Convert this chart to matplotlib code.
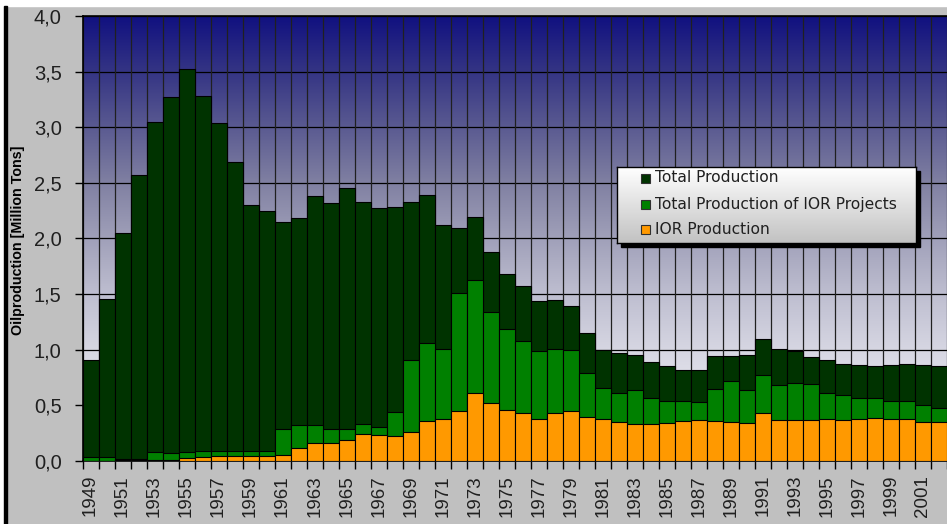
import numpy as np
import matplotlib
matplotlib.use("Agg")
import matplotlib.pyplot as plt
from matplotlib.patches import Rectangle

years = list(range(1949, 2003))
total_production = [0.91, 1.46, 2.05, 2.57, 3.05, 3.27, 3.52, 3.28, 3.04, 2.69, 2.30, 2.25, 2.15, 2.18, 2.38,
                    2.32, 2.455, 2.33, 2.27, 2.28, 2.33, 2.39, 2.12, 2.09, 2.19, 1.88, 1.68, 1.57, 1.44, 1.445,
                    1.39, 1.15, 1.00, 0.97,
                    0.95, 0.89, 0.85, 0.82, 0.82, 0.94, 0.94, 0.95, 1.10, 1.01, 0.99, 0.935, 0.91, 0.875,
                    0.865, 0.857, 0.865, 0.872, 0.865, 0.85]
ior_projects = [0.04, 0.033, 0.02, 0.015, 0.078, 0.072, 0.078, 0.087, 0.087, 0.087, 0.087, 0.087, 0.29, 0.32, 0.32,
                0.29, 0.29, 0.335, 0.31, 0.44, 0.91, 1.06, 1.01, 1.51, 1.63, 1.34, 1.19, 1.08, 0.99, 1.01,
                0.995, 0.79, 0.66, 0.61,
                0.64, 0.57, 0.54, 0.54, 0.53, 0.65, 0.715, 0.64, 0.77, 0.68, 0.70, 0.695, 0.61, 0.59,
                0.57, 0.565, 0.535, 0.535, 0.50, 0.48]
ior_production = [0.0, 0.0, 0.008, 0.005, 0.005, 0.008, 0.027, 0.033, 0.042, 0.042, 0.048, 0.048, 0.057, 0.12, 0.165,
                  0.16, 0.19, 0.24, 0.23, 0.225, 0.265, 0.36, 0.38, 0.45, 0.61, 0.52, 0.46, 0.435, 0.38, 0.435,
                  0.45, 0.40, 0.375, 0.35,
                  0.33, 0.33, 0.34, 0.357, 0.366, 0.357, 0.348, 0.34, 0.43, 0.366, 0.366, 0.366, 0.375, 0.366,
                  0.375, 0.384, 0.375, 0.375, 0.348, 0.348]
y_ticks = [0.0, 0.5, 1.0, 1.5, 2.0, 2.5, 3.0, 3.5, 4.0]
labels = ["Total Production", "Total Production of IOR Projects", "IOR Production"]
colors = ["#003300", "#008000", "#FF9900"]

W, H = 947, 524
fig = plt.figure(figsize=(W / 100, H / 100), dpi=100, facecolor="#C0C0C0")

# frame bits of the cropped spreadsheet chart
fig.patches.append(Rectangle((0, 1 - 6 / H), 1, 6 / H, transform=fig.transFigure, color="white", zorder=0))
fig.patches.append(Rectangle((0, 0), 4 / W, 1, transform=fig.transFigure, color="white", zorder=0))
fig.patches.append(Rectangle((4 / W, 0), 2.5 / W, 1 - 6 / H, transform=fig.transFigure, color="black", zorder=0))

ax_left, ax_top, ax_bottom = 82.5, 16, 461
ax = fig.add_axes([ax_left / W, (H - ax_bottom) / H, 1 - ax_left / W, (ax_bottom - ax_top) / H])

# gradient background (navy -> greyish lavender -> near white)
stops = np.array([[16, 16, 128], [52, 52, 132], [90, 90, 145], [128, 128, 162], [160, 160, 185],
                  [190, 190, 208], [214, 214, 226], [232, 232, 240], [246, 246, 250]]) / 255
pos = np.linspace(0, 1, len(stops))
t = np.linspace(0, 1, 400)
grad = np.stack([np.interp(t, pos, stops[:, k]) for k in range(3)], axis=1)[:, None, :]
ax.imshow(grad, extent=[0, 1, 0, 1], transform=ax.transAxes, aspect="auto", zorder=0)

x = np.arange(len(years))
ax.bar(x, total_production, width=1.0, color=colors[0], edgecolor="black", linewidth=0.8, zorder=3)
ax.bar(x, ior_projects, width=1.0, color=colors[1], edgecolor="black", linewidth=0.8, zorder=4)
ax.bar(x, ior_production, width=1.0, color=colors[2], edgecolor="black", linewidth=0.8, zorder=5)

cat_w = 16.06
ax.set_xlim(-0.5, (W - ax_left) / cat_w - 0.5)
ax.set_ylim(0, 4)

# grid lines
for yv in y_ticks:
    ax.axhline(yv, color="black", linewidth=0.9, zorder=1)
for b in np.arange(-0.5, len(years) + 0.5):
    ax.axvline(b, color="#202020", linewidth=0.9, zorder=1)

ax.set_yticks(y_ticks)
ax.set_yticklabels([f"{v:.1f}".replace(".", ",") for v in y_ticks], fontsize=14.5,
                   family="Liberation Sans", color="#202020")
ax.tick_params(axis="y", length=6, width=1, pad=9)

ax.set_xticks(np.arange(-0.5, len(years) + 0.5), minor=False)
ax.set_xticklabels([])
ax.tick_params(axis="x", which="major", length=6, width=1)
ax.set_xticks(x[::2], minor=True)
ax.set_xticklabels([str(y) for y in years[::2]], minor=True, rotation=90,
                   fontsize=13.5, family="Liberation Sans", color="#202020")
ax.tick_params(axis="x", which="minor", length=0, pad=10)

for s in ["left", "bottom", "top"]:
    ax.spines[s].set_color("black")
    ax.spines[s].set_linewidth(1.2)
ax.spines["right"].set_visible(False)

fig.text(18 / W, 1 - 240 / H, "Oilproduction [Million Tons]", rotation=90, ha="center", va="center",
         fontsize=10.3, fontweight="bold", family="Liberation Sans")

# legend box drawn by hand: shadow, gradient fill, swatches, labels
lx0, ly0, lx1, ly1 = 617, 167, 916, 243
fig.patches.append(Rectangle(((lx0 + 4) / W, 1 - (ly1 + 4) / H), (lx1 - lx0) / W, (ly1 - ly0) / H,
                             transform=fig.transFigure, color="black", zorder=9))
lax = fig.add_axes([lx0 / W, 1 - ly1 / H, (lx1 - lx0) / W, (ly1 - ly0) / H], zorder=10)
lg = np.linspace(1.0, 0.76, 100)[:, None, None] * np.ones((1, 1, 3))
lax.imshow(lg, extent=[0, 1, 0, 1], aspect="auto")
lax.set_xlim(0, 1)
lax.set_ylim(0, 1)
lax.set_xticks([])
lax.set_yticks([])
for s in lax.spines.values():
    s.set_color("black")
    s.set_linewidth(1.0)
bw, bh = lx1 - lx0, ly1 - ly0
for row_y, c, lab in zip([178, 204, 229], colors, labels):
    fy = 1 - (row_y - ly0) / bh
    lax.add_patch(Rectangle(((641 - lx0) / bw, fy - 4.5 / bh), 9 / bw, 9 / bh,
                            facecolor=c, edgecolor="#303030", linewidth=0.8))
    lax.text((655 - lx0) / bw, fy, lab, ha="left", va="center", fontsize=11.2,
             family="DejaVu Sans", color="#202020")

fig.savefig("out.png", dpi=100, facecolor=fig.get_facecolor())
